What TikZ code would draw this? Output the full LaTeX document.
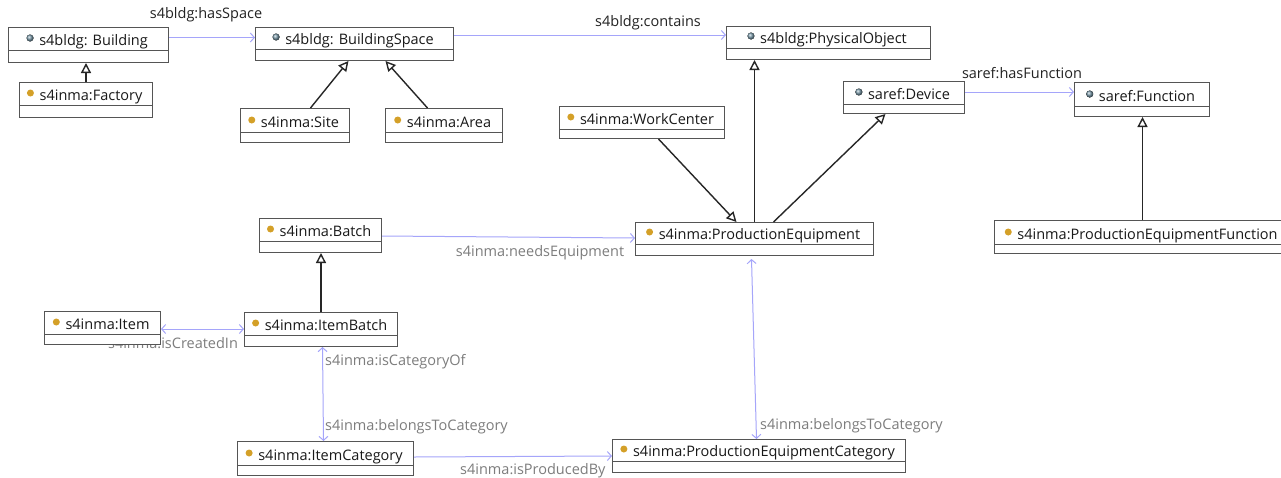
\documentclass[tikz,border=0pt]{standalone}
\usepackage{fontspec}
\setmainfont{Open Sans}
\usetikzlibrary{arrows.meta}
\definecolor{gold}{RGB}{212,160,40}
\definecolor{sphere}{RGB}{90,130,150}
\definecolor{assoc}{RGB}{165,165,250}
\definecolor{lblgray}{RGB}{125,125,125}
\definecolor{lblblack}{RGB}{35,35,35}
\definecolor{boxgray}{RGB}{85,85,85}
\tikzset{
  umlbox/.style={draw=boxgray, line width=1pt, fill=white, inner sep=0pt},
  boxline/.style={draw=boxgray, line width=1pt},
  boxtext/.style={inner sep=0pt, anchor=base, font=\fontsize{14.5}{17}\selectfont, text=black!90},
  golddot/.style={fill=gold},
  spheredot/.style={ball color=sphere!80},
  gen/.style={draw=black!85, line width=1.4pt, -{Triangle[open, length=10pt, width=10pt, fill=white]}},
  assocline/.style={draw=assoc, line width=1pt, -{Straight Barb[length=4pt, width=9pt]}},
  assocboth/.style={draw=assoc, line width=1pt, {Straight Barb[length=4pt, width=9pt]}-{Straight Barb[length=4pt, width=9pt]}},
  blacklbl/.style={inner sep=0pt, font=\fontsize{14.5}{17}\selectfont, text=lblblack},
  graylbl/.style={inner sep=0pt, font=\fontsize{14.5}{17}\selectfont, text=lblgray}
}
% #1 name, #2 x, #3 y, #4 w, #5 h, #6 divider offset, #7 icon style, #8 text
\newcommand\umlbox[8]{%
  \node[umlbox, minimum width=#4pt, minimum height=#5pt, anchor=north west] (#1) at (#2,#3) {};
  \draw[boxline] ([yshift=-#6pt]#1.north west) -- ([yshift=-#6pt]#1.north east);
  \node[boxtext] (#1-t) at ([xshift=5pt,yshift={-(#6)*1pt+5pt}]#1.north) {#8};
  \fill[#7] ([xshift=-9pt,yshift=7pt]#1-t.base west) circle (3.5pt);
}
\begin{document}
\begin{tikzpicture}[x=1pt, y=-1pt]
\useasboundingbox[fill=white] (0,0) rectangle (1281,477);

% labels drawn first
\node[graylbl] (lcreated) at (173,343) {s4inma:isCreatedIn};

\umlbox{building}{8}{27}{160}{35}{23}{spheredot}{s4bldg: Building}
\umlbox{factory}{19}{82}{133}{35}{23}{golddot}{s4inma:Factory}
\umlbox{bspace}{255}{27}{198}{33}{22}{spheredot}{s4bldg: BuildingSpace}
\umlbox{site}{240}{108}{109}{34}{24}{golddot}{s4inma:Site}
\umlbox{area}{385}{108}{117}{34}{24}{golddot}{s4inma:Area}
\umlbox{phys}{726}{26}{204}{33}{22}{spheredot}{s4bldg:PhysicalObject}
\umlbox{workc}{559}{106}{165}{32}{23}{golddot}{s4inma:WorkCenter}
\umlbox{device}{843}{81}{121}{32}{23}{spheredot}{saref:Device}
\umlbox{func}{1074}{82}{135}{34}{24}{spheredot}{saref:Function}
\umlbox{pefunc}{994}{220}{296}{33}{24}{golddot}{s4inma:ProductionEquipmentFunction}
\umlbox{batch}{259}{218}{122}{34}{23}{golddot}{s4inma:Batch}
\umlbox{itembatch}{244}{312}{153}{34}{23}{golddot}{s4inma:ItemBatch}
\umlbox{pe}{635}{222}{238}{33}{22}{golddot}{s4inma:ProductionEquipment}
\umlbox{item}{44}{311}{116}{33}{23}{golddot}{s4inma:Item}
\umlbox{itemcat}{237}{441}{176}{34}{24}{golddot}{s4inma:ItemCategory}
\umlbox{pecat}{612}{439}{293}{33}{22}{golddot}{s4inma:ProductionEquipmentCategory}

% generalizations
\draw[gen] (factory.north) -- (factory.north |- building.south);
\draw[gen] ([xshift=15.5pt]site.north) -- ([xshift=-6pt]bspace.south);
\draw[gen] ([xshift=-16.5pt]area.north) -- ([xshift=31pt]bspace.south);
\draw[gen] (pe.north) -- (pe.north |- phys.south);
\draw[gen] ([xshift=16.5pt]workc.south) -- ([xshift=-18pt]pe.north);
\draw[gen] ([xshift=19pt]pe.north) -- ([xshift=-18.5pt]device.south);
\draw[gen] (pefunc.north) -- (pefunc.north |- func.south);
\draw[gen] (itembatch.north) -- (itembatch.north |- batch.south);

% associations
\draw[assocline] ([yshift=-10.5pt]building.north east) -- ([yshift=-10.5pt]building.north east -| bspace.west);
\node[blacklbl] (lhas) at (206,15) {s4bldg:hasSpace};
\draw[assocline] ([yshift=-8pt]bspace.north east) -- ([yshift=-8pt]bspace.north east -| phys.west);
\node[blacklbl] (lcont) at (648,23) {s4bldg:contains};
\draw[assocline] ([yshift=-11pt]device.north east) -- ([yshift=-11pt]device.north east -| func.west);
\node[blacklbl] (lfunc) at (1022,73) {saref:hasFunction};

\draw[assocline] ([yshift=-18pt]batch.north east) -- ([yshift=-16pt]pe.north west);
\node[graylbl] (lneeds) at (540,253) {s4inma:needsEquipment};

\draw[assocboth] ([yshift=-18pt]item.north east) -- ([yshift=-17pt]itembatch.north west);

\draw[assocboth] ([xshift=1.5pt]itembatch.south) -- ([xshift=-2pt]itemcat.north);
\node[graylbl, anchor=west] (lcatof) at (325,362) {s4inma:isCategoryOf};
\node[graylbl, anchor=west] (lbelong1) at (325,427) {s4inma:belongsToCategory};

\draw[assocboth] ([xshift=-3pt,yshift=-3pt]pe.south) -- ([xshift=-2.5pt]pecat.north);
\node[graylbl, anchor=west] (lbelong2) at (760,426) {s4inma:belongsToCategory};

\draw[assocline] ([yshift=-16pt]itemcat.north east) -- ([yshift=-17pt]pecat.north west);
\node[graylbl, anchor=west] (lprod) at (460,471) {s4inma:isProducedBy};
\end{tikzpicture}
\end{document}
